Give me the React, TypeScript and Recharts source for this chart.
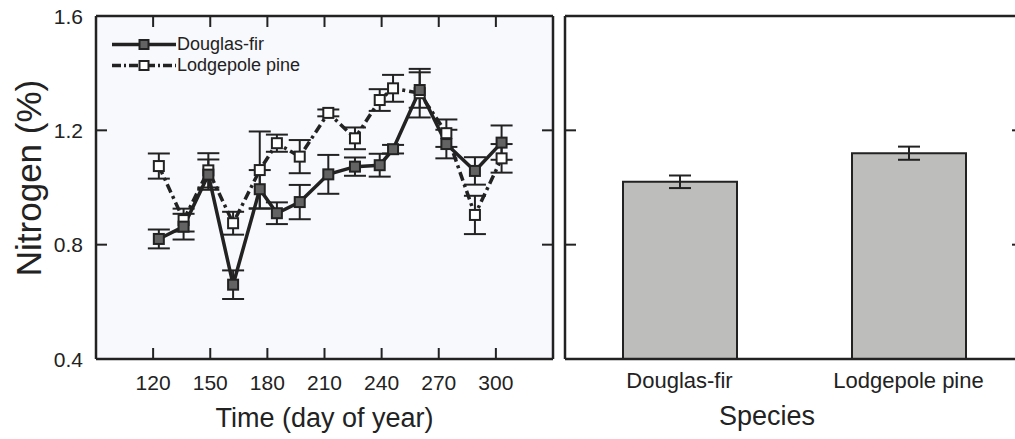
import React from "react";
import {
    LineChart,
    Line,
    XAxis,
    YAxis,
    ErrorBar,
    CartesianGrid,
    BarChart,
    Bar,
} from "recharts";

// seasonal foliar nitrogen, day of year
const days = [123, 136, 149, 162, 176, 185, 197, 212, 226, 239, 246, 260, 274, 289, 303];
const douglasFir = [0.82, 0.863, 1.045, 0.66, 0.994, 0.91, 0.949, 1.046, 1.073, 1.078, 1.134, 1.341, 1.152, 1.058, 1.157];
const douglasFirErr = [0.033, 0.045, 0.053, 0.05, 0.067, 0.038, 0.06, 0.068, 0.032, 0.04, 0.015, 0.062, 0.05, 0.048, 0.06];
const lodgepole = [1.075, 0.886, 1.06, 0.875, 1.061, 1.155, 1.108, 1.261, 1.172, 1.306, 1.347, 1.33, 1.19, 0.904, 1.102];
const lodgepoleErr = [0.044, 0.04, 0.06, 0.04, 0.135, 0.03, 0.058, 0.012, 0.038, 0.038, 0.047, 0.085, 0.048, 0.067, 0.05];

// species means
const species = ["Douglas-fir", "Lodgepole pine"];
const speciesMean = [1.02, 1.12];
const speciesErr = [0.022, 0.023];

const dayTicks = [120, 150, 180, 210, 240, 270, 300];
const nTicks = [0.4, 0.8, 1.2, 1.6];
const innerTicks = [0.8, 1.2];

const INK = "#222";
const FONT = "'Liberation Sans', Arial, Helvetica, sans-serif";
const TICK_LEN = 11;

const seasonData = days.map((d, i) => ({
    day: d,
    df: douglasFir[i],
    dfErr: douglasFirErr[i],
    lp: lodgepole[i],
    lpErr: lodgepoleErr[i],
}));

const speciesData = species.map((s, i) => ({
    name: s,
    mean: speciesMean[i],
    err: speciesErr[i],
}));

const legendItems = [
    { name: "Douglas-fir", fill: "#636363", dash: undefined as string | undefined },
    { name: "Lodgepole pine", fill: "#fff", dash: "9 3 2 3" },
];

const square = (fill: string, size: number) => (props: any) => {
    const { cx, cy, index } = props;
    if (cx == null || cy == null) return <g key={`sq-${index}`} />;
    return (
        <rect
            key={`sq-${index}`}
            x={cx - size / 2}
            y={cy - size / 2}
            width={size}
            height={size}
            fill={fill}
            stroke={INK}
            strokeWidth={2}
        />
    );
};

// inward tick marks, drawn by hand
const bottomTick = (props: any) => {
    const { x, y, payload } = props;
    return (
        <g>
            <line x1={x} x2={x} y1={y} y2={y - TICK_LEN} stroke={INK} strokeWidth={2} />
            <text x={x} y={y + 31} textAnchor="middle" fontSize={21} fontFamily={FONT} fill={INK}>
                {payload.value}
            </text>
        </g>
    );
};

const leftTick = (props: any) => {
    const { x, y, payload } = props;
    return (
        <g>
            <line x1={x} x2={x + TICK_LEN} y1={y} y2={y} stroke={INK} strokeWidth={2} />
            <text x={x - 13} y={y + 7.5} textAnchor="end" fontSize={21} fontFamily={FONT} fill={INK}>
                {Number(payload.value).toFixed(1)}
            </text>
        </g>
    );
};

const leftMark = (props: any) => {
    const { x, y } = props;
    return <line x1={x} x2={x + TICK_LEN} y1={y} y2={y} stroke={INK} strokeWidth={2} />;
};

const rightMark = (props: any) => {
    const { x, y } = props;
    return <line x1={x} x2={x - TICK_LEN} y1={y} y2={y} stroke={INK} strokeWidth={2} />;
};

const topMark = (props: any) => {
    const { x, y } = props;
    return <line x1={x} x2={x} y1={y} y2={y + TICK_LEN} stroke={INK} strokeWidth={2} />;
};

function SeriesLegend() {
    return (
        <div style={{ fontFamily: FONT, fontSize: 18, color: INK }}>
            {legendItems.map((it) => (
                <div key={it.name} style={{ display: "flex", alignItems: "center", height: 21 }}>
                    <svg width={66} height={21} style={{ display: "block" }}>
                        <line x1={1} x2={65} y1={10.5} y2={10.5} stroke={INK} strokeWidth={3.5} strokeDasharray={it.dash} />
                        <rect x={28.5} y={6} width={9} height={9} fill={it.fill} stroke={INK} strokeWidth={2} />
                    </svg>
                    <span style={{ lineHeight: "21px" }}>{it.name}</span>
                </div>
            ))}
        </div>
    );
}

const catTickStyle = { fill: INK, fontSize: 22, fontFamily: FONT };
const axisLine = { stroke: INK, strokeWidth: 2.5 };

export default function App() {
    return (
        <div
            style={{
                position: "fixed",
                left: 0,
                top: 0,
                width: 1015,
                height: 439,
                overflow: "hidden",
                background: "#fff",
            }}
        >
            <div style={{ position: "absolute", left: 0, top: 0 }}>
                <LineChart
                    width={560}
                    height={439}
                    data={seasonData}
                    margin={{ top: 15, right: 6, bottom: 50, left: 36 }}
                >
                    <CartesianGrid fill="#f8f9fd" horizontal={false} vertical={false} />
                    <XAxis
                        dataKey="day"
                        type="number"
                        domain={[90, 330]}
                        ticks={dayTicks}
                        interval={0}
                        allowDataOverflow
                        height={30}
                        tickSize={0}
                        tickMargin={0}
                        tick={bottomTick}
                        axisLine={axisLine}
                        tickLine={false}
                    />
                    <XAxis
                        xAxisId="top"
                        orientation="top"
                        dataKey="day"
                        type="number"
                        domain={[90, 330]}
                        ticks={dayTicks}
                        interval={0}
                        allowDataOverflow
                        height={1}
                        tickSize={0}
                        tickMargin={0}
                        tick={topMark}
                        axisLine={axisLine}
                        tickLine={false}
                    />
                    <YAxis
                        type="number"
                        domain={[0.4, 1.6]}
                        ticks={nTicks}
                        interval={0}
                        allowDataOverflow
                        width={60}
                        tickSize={0}
                        tickMargin={0}
                        tick={leftTick}
                        axisLine={axisLine}
                        tickLine={false}
                    />
                    <YAxis
                        yAxisId="right"
                        orientation="right"
                        type="number"
                        domain={[0.4, 1.6]}
                        ticks={innerTicks}
                        interval={0}
                        allowDataOverflow
                        width={1}
                        tickSize={0}
                        tickMargin={0}
                        tick={rightMark}
                        axisLine={axisLine}
                        tickLine={false}
                    />
                    <Line
                        dataKey="lp"
                        name="Lodgepole pine"
                        stroke={INK}
                        strokeWidth={3.5}
                        strokeDasharray="9 4 3 4"
                        dot={square("#fff", 10)}
                        isAnimationActive={false}
                    >
                        <ErrorBar dataKey="lpErr" width={11} stroke={INK} strokeWidth={2} />
                    </Line>
                    <Line
                        dataKey="df"
                        name="Douglas-fir"
                        stroke={INK}
                        strokeWidth={3.5}
                        dot={square("#636363", 10)}
                        isAnimationActive={false}
                    >
                        <ErrorBar dataKey="dfErr" width={11} stroke={INK} strokeWidth={2} />
                    </Line>
                </LineChart>
            </div>

            <div style={{ position: "absolute", left: 111, top: 34 }}>
                <SeriesLegend />
            </div>

            <div style={{ position: "absolute", left: 555, top: 0 }}>
                <BarChart
                    width={473}
                    height={439}
                    data={speciesData}
                    margin={{ top: 15, right: 4, bottom: 50, left: 9 }}
                >
                    <XAxis
                        dataKey="name"
                        height={30}
                        tickSize={0}
                        tickMargin={13}
                        tick={catTickStyle}
                        axisLine={axisLine}
                        tickLine={false}
                    />
                    <XAxis
                        xAxisId="top"
                        orientation="top"
                        dataKey="name"
                        height={1}
                        tick={false}
                        tickLine={false}
                        axisLine={axisLine}
                    />
                    <YAxis
                        type="number"
                        domain={[0.4, 1.6]}
                        ticks={innerTicks}
                        interval={0}
                        allowDataOverflow
                        width={1}
                        tickSize={0}
                        tickMargin={0}
                        tick={leftMark}
                        axisLine={axisLine}
                        tickLine={false}
                    />
                    <YAxis
                        yAxisId="right"
                        orientation="right"
                        type="number"
                        domain={[0.4, 1.6]}
                        ticks={innerTicks}
                        interval={0}
                        allowDataOverflow
                        width={1}
                        tickSize={0}
                        tickMargin={0}
                        tick={rightMark}
                        axisLine={axisLine}
                        tickLine={false}
                    />
                    <Bar
                        dataKey="mean"
                        fill="#bdbdbb"
                        stroke={INK}
                        strokeWidth={2}
                        barSize={114}
                        isAnimationActive={false}
                    >
                        <ErrorBar dataKey="err" width={11} stroke={INK} strokeWidth={2} />
                    </Bar>
                </BarChart>
            </div>

            <svg
                width={1015}
                height={439}
                style={{ position: "absolute", left: 0, top: 0, pointerEvents: "none" }}
            >
                <text
                    x={41}
                    y={178}
                    transform="rotate(-90 41 178)"
                    textAnchor="middle"
                    fontSize={35}
                    fontFamily={FONT}
                    fill={INK}
                >
                    Nitrogen (%)
                </text>
                <text x={324.5} y={427} textAnchor="middle" fontSize={27} fontFamily={FONT} fill={INK}>
                    Time (day of year)
                </text>
                <text x={767} y={425} textAnchor="middle" fontSize={27} fontFamily={FONT} fill={INK}>
                    Species
                </text>
            </svg>
        </div>
    );
}
